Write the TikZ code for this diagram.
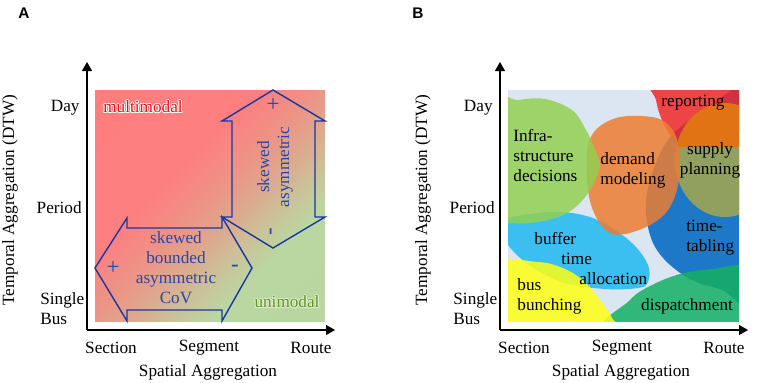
\documentclass[tikz,border=0pt]{standalone}
\usepackage{fontspec}
\setmainfont{Liberation Serif}
\newfontfamily\panelfont{Liberation Sans}
\usetikzlibrary{arrows.meta}

\definecolor{arrowblue}{RGB}{25,55,160}
\definecolor{arrowtext}{RGB}{40,70,170}
\definecolor{multired}{RGB}{230,20,20}
\definecolor{unigreen}{RGB}{95,145,40}
\definecolor{unihalo}{RGB}{225,240,205}
\definecolor{bgblue}{RGB}{220,230,242}
\definecolor{infragreen}{RGB}{146,208,80}
\definecolor{demandorange}{RGB}{237,125,49}
\definecolor{reportred}{RGB}{240,40,40}
\definecolor{supplyorange}{RGB}{225,115,20}
\definecolor{supplyolive}{RGB}{145,160,95}
\definecolor{tableblue}{RGB}{30,120,200}
\definecolor{bufferblue}{RGB}{30,185,240}
\definecolor{bunchyellow}{RGB}{255,255,20}
\definecolor{dispgreen}{RGB}{20,175,100}

% red to green across the square of panel A
\pgfdeclarehorizontalshading{modalshade}{100bp}{rgb(0bp)=(1,0.49,0.49);
  rgb(40bp)=(0.99,0.5,0.5); rgb(50bp)=(0.92,0.59,0.53); rgb(56bp)=(0.86,0.67,0.56);
  rgb(63bp)=(0.78,0.78,0.61); rgb(68bp)=(0.73,0.84,0.63); rgb(100bp)=(0.72,0.84,0.63)}

% text with a thin halo round it
\newcommand{\halotext}[3]{\leavevmode
  \rlap{\color{#2}\kern-0.45pt#3}\rlap{\color{#2}\kern0.45pt#3}%
  \rlap{\color{#2}\raisebox{0.45pt}{#3}}\rlap{\color{#2}\raisebox{-0.45pt}{#3}}%
  \rlap{\color{#2}\kern-0.32pt\raisebox{0.32pt}{#3}}\rlap{\color{#2}\kern0.32pt\raisebox{0.32pt}{#3}}%
  \rlap{\color{#2}\kern-0.32pt\raisebox{-0.32pt}{#3}}\rlap{\color{#2}\kern0.32pt\raisebox{-0.32pt}{#3}}%
  \textcolor{#1}{#3}}

\begin{document}
\begin{tikzpicture}[x=0.5pt,y=-0.5pt]
    \tikzstyle{lbl}=[font=\fontsize{8.6}{10}\selectfont, inner sep=0pt]
    \tikzstyle{axis}=[line width=0.6pt, -{Triangle[length=4.5pt,width=5pt]}]
    \tikzstyle{bigarrow}=[draw=arrowblue, line width=0.7pt, line join=miter]
    \tikzstyle{arrowtxt}=[lbl, text=arrowtext, align=center]
    \tikzstyle{sign}=[arrowtxt, font=\fontsize{11.5}{12}\selectfont]
    \tikzstyle{blob}=[fill opacity=0.85]

    \useasboundingbox (0,0) rectangle (765,382);

    \node[font=\panelfont\bfseries\fontsize{7.7}{9}\selectfont] (panA) at (24,13) {A};
    \node[font=\panelfont\bfseries\fontsize{7.7}{9}\selectfont] (panB) at (418,13) {B};

    % axes and scale labels, same for both panels
    \foreach \p/\s in {A/0,B/413}{
        \coordinate (o\p) at (87+\s,330);
        \coordinate (ytip\p) at (87+\s,62);
        \coordinate (xtip\p) at (335+\s,330);
        \draw[axis] (o\p) -- (ytip\p);
        \draw[axis] (o\p) -- (xtip\p);
        \node[lbl, anchor=east] (day\p) at (80+\s,108) {Day};
        \node[lbl, anchor=east] (period\p) at (82+\s,208) {Period};
        \node[lbl, anchor=west, align=left] (single\p) at (40+\s,309) {Single\\Bus};
        \node[lbl] (section\p) at (111+\s,348) {Section};
        \node[lbl] (segment\p) at (209+\s,348) {Segment};
        \node[lbl] (route\p) at (311+\s,348) {Route};
        \node[lbl] (xtitle\p) at (208+\s,372) {Spatial Aggregation};
        \node[lbl, rotate=90] (ytitle\p) at (10+\s,200) {Temporal Aggregation (DTW)};
    }

    % panel A
    \shade[shading=modalshade, shading angle=-45] (95,90) rectangle (325,321);
    \draw[bigarrow] (95,268) -- (127,218) -- (127,228) -- (222,228) -- (222,217)
        -- (252,268) -- (222,321) -- (222,310) -- (127,310) -- (127,321) -- cycle;
    \draw[bigarrow] (273,90) -- (325,121) -- (315,121) -- (315,217) -- (325,217)
        -- (273,248) -- (222,217) -- (232,217) -- (232,121) -- (222,121) -- cycle;
    \node[lbl] (multi) at (143,107) {\halotext{multired}{white}{multimodal}};
    \node[lbl] (uni) at (287,302) {\halotext{unigreen}{unihalo}{unimodal}};
    \node[arrowtxt] (cov) at (176,268) {skewed\\bounded\\asymmetric\\CoV};
    \node[sign] (plusH) at (113,268) {+};
    \node[sign] (minusH) at (235,268) {-};
    \node[arrowtxt, rotate=90] (asym) at (275,167) {skewed\\asymmetric};
    \node[sign] (plusV) at (273,105) {+};
    \node[sign, rotate=90] (minusV) at (273,232) {-};

    % panel B
    \begin{scope}
        \clip (508,90) rectangle (739,321);
        \fill[bgblue] (508,90) rectangle (739,321);
        \fill[tableblue] plot[smooth cycle, tension=0.6] coordinates {(672,135) (700,113)
            (735,88) (770,70) (770,300) (720,289) (690,279) (664,259) (650,235) (646,200) (656,163)};
        \fill[reportred, blob] plot[smooth cycle, tension=0.6] coordinates {(652,70) (656,100)
            (662,120) (674,138) (700,142) (740,132) (770,100) (760,60)};
        \begin{scope}
            \clip (725,160) ellipse [x radius=50, y radius=57];
            \fill[supplyorange] (670,95) rectangle (780,147);
            \fill[supplyolive] (670,147) rectangle (780,225);
        \end{scope}
        \fill[dispgreen, blob] plot[smooth cycle, tension=0.6] coordinates {(610,330) (630,300)
            (650,286) (680,274) (713,269) (750,270) (760,330)};
        \fill[bufferblue, blob] plot[smooth cycle, tension=0.6] coordinates {(500,222) (538,213)
            (572,213) (602,222) (632,243) (648,265) (648,282) (638,288) (605,289) (565,283)
            (532,267) (508,245)};
        \fill[bunchyellow, blob] plot[smooth cycle, tension=0.6] coordinates {(495,266) (538,262)
            (565,269) (585,282) (600,300) (612,318) (616,335) (495,335)};
        \fill[demandorange, blob] plot[smooth cycle, tension=0.6] coordinates {(587,152) (592,135)
            (603,124) (620,117) (642,116) (662,120) (675,134) (679,155) (678,185) (668,210)
            (650,225) (625,234) (608,232) (595,215) (588,190)};
        \fill[infragreen, blob] plot[smooth cycle, tension=0.6] coordinates {(495,105) (518,100)
            (545,99) (572,110) (586,130) (596,152) (600,166) (593,185) (580,203) (563,215)
            (538,222) (512,223) (495,215)};
    \end{scope}
    \node[lbl, anchor=west, align=left] (infra) at (513,156) {Infra-\\structure\\decisions};
    \node[lbl, anchor=west, align=left] (demand) at (600,170) {demand\\modeling};
    \node[lbl] (report) at (693,103) {reporting};
    \node[lbl, align=center] (supply) at (710,160) {supply\\planning};
    \node[lbl, anchor=west, align=left] (table) at (686,238) {time-\\tabling};
    \node[lbl, anchor=west, align=left] (buffer) at (534,259)
        {buffer\\\hspace{13.5pt}time\\\hspace{22.5pt}allocation};
    \node[lbl, anchor=west, align=left] (bunch) at (517,296) {bus\\bunching};
    \node[lbl] (dispatch) at (687,306) {dispatchment};
\end{tikzpicture}
\end{document}
